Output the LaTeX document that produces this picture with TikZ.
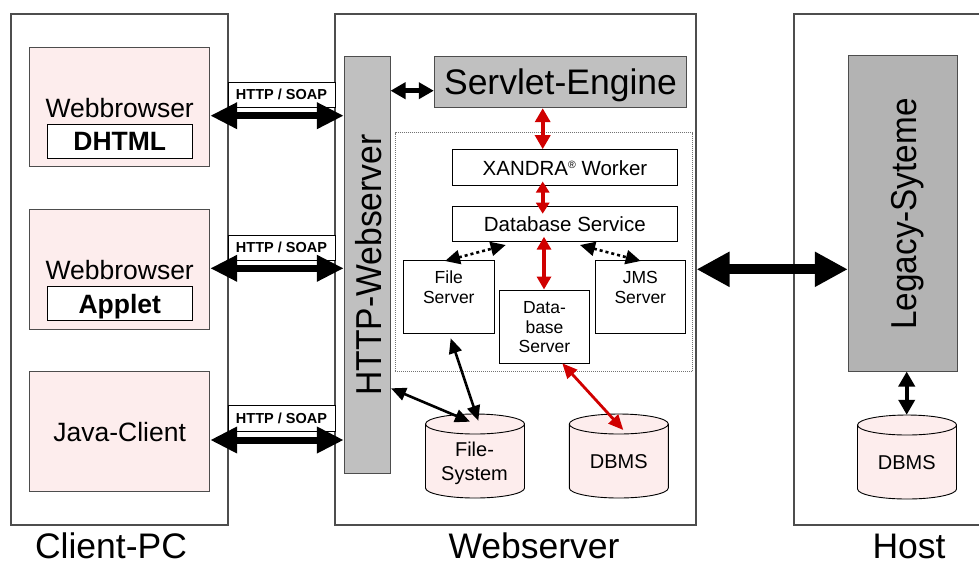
\documentclass[tikz,border=0pt]{standalone}
\usepackage{fontspec}
\setmainfont{Liberation Sans}
\usetikzlibrary{arrows.meta,fit}
\definecolor{pinkfill}{HTML}{FDEDED}
\definecolor{barfill}{HTML}{C0C0C0}
\definecolor{legacyfill}{HTML}{B3B3B3}
\definecolor{edgegray}{HTML}{4D4D4D}
\definecolor{linkred}{HTML}{D00000}
\newcommand\sizeto[2]{\fontsize{#1}{#2}\selectfont}

\begin{document}
\begin{tikzpicture}[x=1pt,y=-1pt,
  tier/.style={draw=edgegray,line width=1.1pt},
  pinkbox/.style={draw=edgegray,fill=pinkfill,line width=1pt,inner sep=0pt},
  whitebox/.style={draw=black,fill=white,line width=1pt,inner sep=0pt},
  graybox/.style={draw=edgegray,fill=barfill,line width=1pt,inner sep=0pt},
  tagbox/.style={draw=black,fill=white,line width=0.9pt},
  region/.style={draw=black!55,line width=0.6pt,dash pattern=on 1pt off 1pt,inner sep=0pt},
  lbl/.style={anchor=base,inner sep=0pt,align=center},
  bigarrow/.style={line width=7pt,{Triangle[length=27pt,width=25pt]}-{Triangle[length=27pt,width=25pt]}},
  hugearrow/.style={line width=10pt,{Triangle[length=33pt,width=33pt]}-{Triangle[length=33pt,width=33pt]}},
  midarrow/.style={line width=4.5pt,{Triangle[length=15pt,width=16pt]}-{Triangle[length=15pt,width=16pt]}},
  thinarrow/.style={line width=2.6pt,{Triangle[length=15pt,width=13pt]}-{Triangle[length=15pt,width=13pt]}},
  redarrow/.style={draw=linkred,fill=linkred,line width=4pt,{Triangle[length=14pt,width=15pt]}-{Triangle[length=14pt,width=15pt]}},
  redthin/.style={draw=linkred,fill=linkred,line width=2.8pt,{Triangle[length=15pt,width=13pt]}-{Triangle[length=15pt,width=13pt]}},
  dotarrow/.style={line width=2.6pt,dash pattern=on 3pt off 3pt,{Triangle[length=15pt,width=14pt]}-{Triangle[length=15pt,width=14pt]}},
  drum/.pic={
    \path[fill=pinkfill,draw=black,line width=0.9pt]
      (-49.5,-32) -- (-49.5,32)
      arc[start angle=180,end angle=360,x radius=49.5pt,y radius=10pt]
      -- (49.5,-32)
      arc[start angle=0,end angle=180,x radius=49.5pt,y radius=10pt] -- cycle;
    \draw[line width=0.9pt] (-49.5,-32)
      arc[start angle=180,end angle=360,x radius=49.5pt,y radius=10pt];
  }
]
\useasboundingbox (0,0) rectangle (979,566);
\clip (0,0) rectangle (979,566);

% --- the three tiers ---
\node[tier,inner sep=0pt,fit={(11,14) (228,525)}] (client) {};
\node[tier,inner sep=0pt,fit={(335,14) (696,525)}] (web) {};
\node[tier,inner sep=0pt,fit={(794,14) (1000,525)}] (host) {};

% --- protocol tags between client and web server ---
\node[tagbox,inner sep=0pt,fit={(228,82) (335,107.3)}] (tag1) {};
\node[tagbox,inner sep=0pt,fit={(228,235) (335,260)}] (tag2) {};
\node[tagbox,inner sep=0pt,fit={(228,405.7) (335,431)}] (tag3) {};
\node[lbl,font=\bfseries\sizeto{14.5}{14.5}] (tag1t) at (281.5,99.3) {HTTP / SOAP};
\node[lbl,font=\bfseries\sizeto{14.5}{14.5}] (tag2t) at (281.5,252.7) {HTTP / SOAP};
\node[lbl,font=\bfseries\sizeto{14.5}{14.5}] (tag3t) at (281.5,423.3) {HTTP / SOAP};

% --- clients ---
\node[pinkbox,fit={(29.7,47.7) (209.7,166.7)}] (wb1) {};
\node[whitebox,fit={(47.7,124.3) (192,158.3)}] (dhtml) {};
\node[lbl,font=\sizeto{26.5}{26.5}] (wb1t) at (119.7,117.7) {Webbrowser};
\node[lbl,font=\bfseries\sizeto{26.5}{26.5}] (dhtmlt) at (119.8,150.7) {DHTML};

\node[pinkbox,fit={(29.7,209.3) (209.7,329)}] (wb2) {};
\node[whitebox,fit={(47.7,286) (192,320)}] (applet) {};
\node[lbl,font=\sizeto{26.5}{26.5}] (wb2t) at (119.7,279.3) {Webbrowser};
\node[lbl,font=\bfseries\sizeto{26.5}{26.5}] (applett) at (119.8,313.3) {Applet};

\node[pinkbox,fit={(29.7,371.7) (209.7,491)}] (java) {};
\node[lbl,font=\sizeto{26.5}{26.5}] (javat) at (119.7,441) {Java-Client};

% --- web server internals ---
\node[region,fit={(395,132.7) (692.7,371.7)}] (xandra) {};
\node[graybox,fit={(344.3,56) (390,473.3)}] (httpbar) {};
\node[lbl,rotate=90,font=\sizeto{36}{36}] (httpbart) at (381.7,265) {\scalebox{0.935}[1]{HTTP-Webserver}};
\node[graybox,fit={(434.3,56) (686.7,107.7)}] (servlet) {};
\node[lbl,font=\sizeto{35.5}{35.5}] (servlett) at (560.5,94) {Servlet-Engine};

\node[whitebox,fit={(452.3,149.7) (677.7,185.3)}] (worker) {};
\node[lbl,font=\sizeto{20.5}{20.5}] (workert) at (565,175) {XANDRA\raisebox{6.5pt}{\sizeto{10.5}{10.5}®} Worker};
\node[whitebox,fit={(452.3,206) (677.7,241)}] (dbsvc) {};
\node[lbl,font=\sizeto{20.5}{20.5}] (dbsvct) at (564.8,231) {Database Service};

% multi-line labels are placed by the baseline of their last line
\node[whitebox,fit={(403.3,260.7) (494.3,333.3)}] (filesrv) {};
\node[lbl,font=\sizeto{17.5}{20}] (filesrvt) at (448.8,303.3) {File\\Server};
\node[whitebox,fit={(595,260.7) (685.7,333.3)}] (jms) {};
\node[lbl,font=\sizeto{17.5}{20}] (jmst) at (640.3,303.3) {JMS\\Server};
\node[whitebox,fit={(499.5,290) (589.7,363)}] (dbsrv) {};
\node[lbl,font=\sizeto{17.5}{19.7}] (dbsrvt) at (544.5,352.7) {Data-\\base\\Server};

% --- storage ---
\pic at (475,456) {drum};
\node[inner sep=0pt,minimum width=99pt,minimum height=84pt] (fsys) at (475,456) {};
\node[lbl,font=\sizeto{20}{24}] (fsyst) at (474.5,480.7) {File-\\System};
\pic at (618.8,456) {drum};
\node[inner sep=0pt,minimum width=99pt,minimum height=84pt] (dbms) at (618.8,456) {};
\node[lbl,font=\sizeto{20}{20}] (dbmst) at (618.8,468.3) {DBMS};
\pic at (907,457) {drum};
\node[inner sep=0pt,minimum width=99pt,minimum height=84pt] (hdbms) at (907,457) {};
\node[lbl,font=\sizeto{20}{20}] (hdbmst) at (906.7,469) {DBMS};

% --- host ---
\node[graybox,fill=legacyfill,fit={(848.3,55.7) (957.3,371)}] (legacy) {};
\node[lbl,rotate=90,font=\sizeto{36}{36}] (legacyt) at (916.7,214) {\scalebox{0.925}[1]{Legacy-Syteme}};

% --- tier captions ---
\node[lbl,font=\sizeto{35.5}{35.5}] (clientt) at (111,558.5) {Client-PC};
\node[lbl,font=\sizeto{35.5}{35.5}] (webt) at (534,558.5) {Webserver};
\node[lbl,font=\sizeto{35.5}{35.5}] (hostt) at (909,558.5) {Host};

% --- connectors ---
\draw[bigarrow] (wb1.east |- 0,115.7) -- (httpbar.west |- 0,115.7);
\draw[bigarrow] (wb2.east |- 0,268.3) -- (httpbar.west |- 0,268.3);
\draw[bigarrow] (java.east |- 0,440) -- (httpbar.west |- 0,440);
\draw[hugearrow] (web.east |- 0,269.3) -- (legacy.west |- 0,269.3);
\draw[midarrow] (httpbar.east |- 0,90.7) -- (servlet.west |- 0,90.7);
\draw[midarrow,line width=4pt] (legacy.south -| 906.7,0) -- (hdbms.north -| 906.7,0);

\draw[redarrow] (servlet.south -| 542.7,0) -- (worker.north -| 542.7,0);
\coordinate (wkA) at (542.7,181.5);
\coordinate (dsA) at (542.7,213.7);
\draw[redarrow,{Triangle[length=11pt,width=13pt]}-{Triangle[length=11pt,width=13pt]}] (wkA) -- (dsA);
\coordinate (dsB) at (544,236.7);
\draw[redarrow,{Triangle[length=13pt,width=14pt]}-{Triangle[length=13pt,width=14pt]}] (dsB) -- (dbsrv.north -| 544,0);

\coordinate (fsA) at (445,261);
\coordinate (dsL) at (505.7,245);
\coordinate (dsR) at (580,245);
\coordinate (jmA) at (640.7,261);
\draw[dotarrow] (fsA) -- (dsL);
\draw[dotarrow] (dsR) -- (jmA);

\coordinate (fsB) at (450.7,338.3);
\coordinate (fsC) at (478.3,420.7);
\coordinate (hbA) at (391,388.3);
\coordinate (fsD) at (470,421.7);
\draw[thinarrow] (fsB) -- (fsC);
\draw[thinarrow] (hbA) -- (fsD);

\coordinate (dbA) at (562.3,363.3);
\coordinate (dbB) at (623.3,430);
\draw[redthin] (dbA) -- (dbB);
\end{tikzpicture}
\end{document}
